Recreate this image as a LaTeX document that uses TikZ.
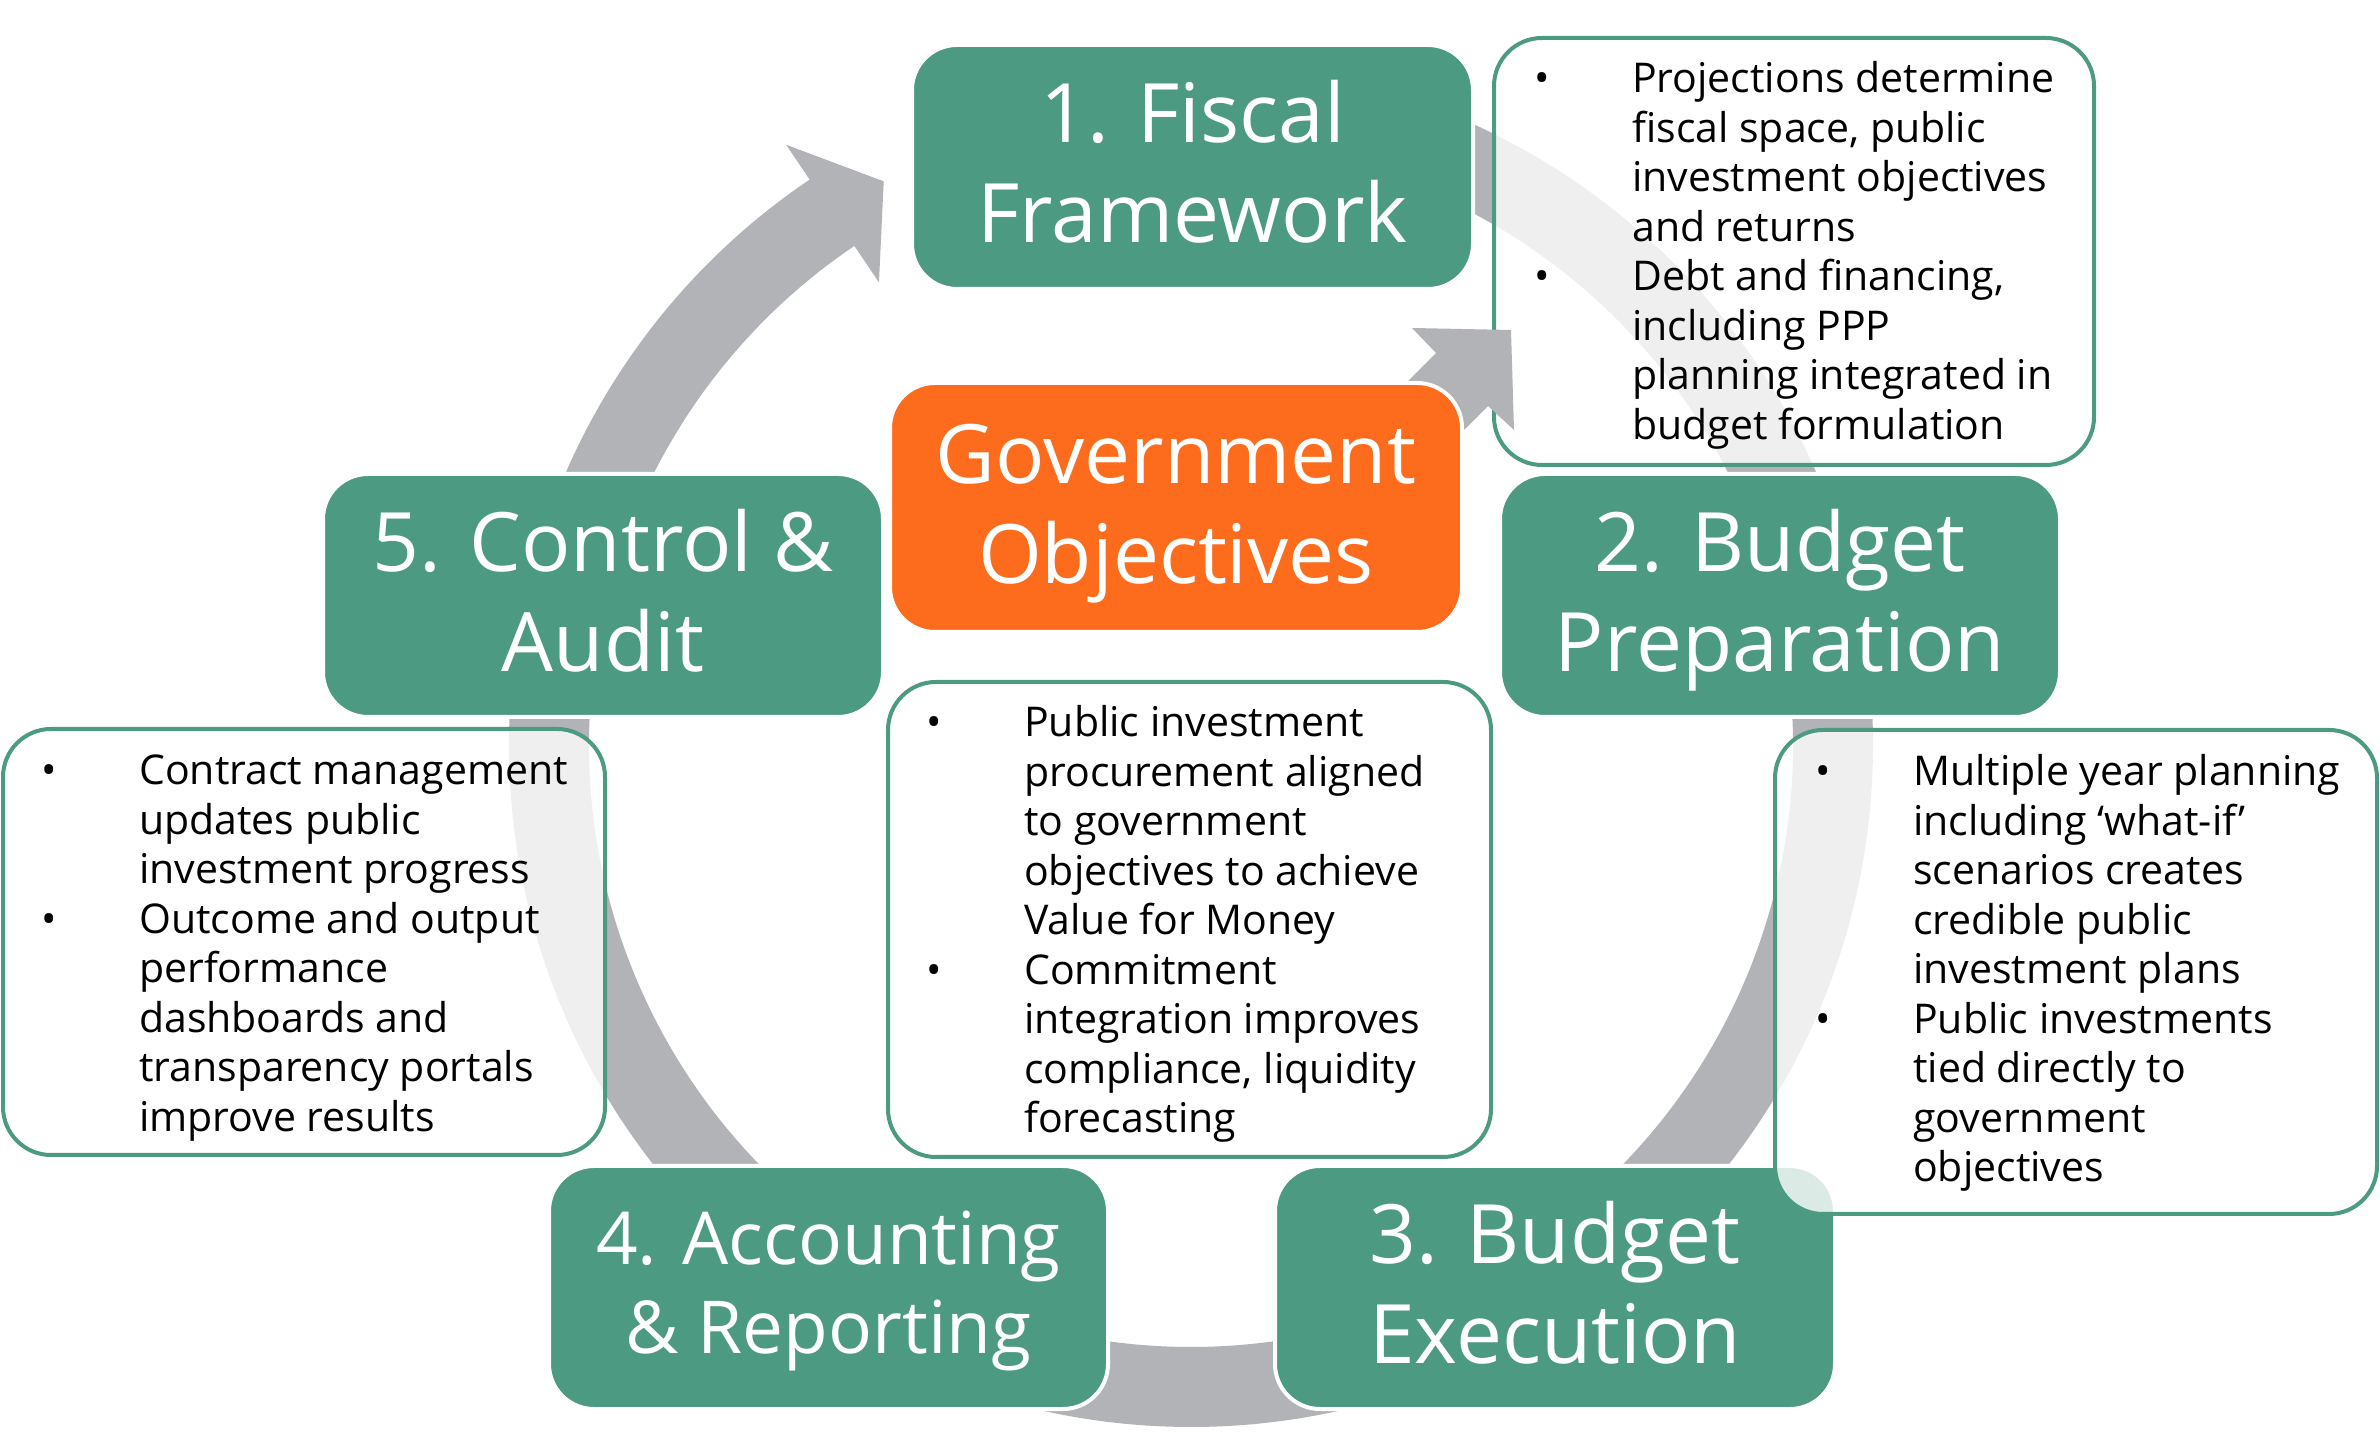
\documentclass[tikz,border=0pt]{standalone}
\usepackage{fontspec}
\setmainfont{Open Sans}
\usetikzlibrary{calc}
\definecolor{pgreen}{RGB}{76,154,129}
\definecolor{agray}{RGB}{178,179,182}
\definecolor{porange}{RGB}{252,108,28}
\tikzset{
  titlebox/.style={rectangle, rounded corners=45pt, fill=pgreen, draw=white, line width=4pt, inner sep=0pt},
  govbox/.style={titlebox, fill=porange},
  titletext/.style={text=white, font=\fontsize{82}{100}\selectfont, align=center, anchor=base, inner sep=0pt},
  smalltitle/.style={titletext, font=\fontsize{73}{89}\selectfont},
  notebox/.style={rectangle, rounded corners=48pt, draw=pgreen, line width=4pt, fill=white, fill opacity=0.8, inner sep=0pt},
  notetext/.style={text=black, font=\fontsize{41}{49.5}\selectfont, align=left, anchor=base west, inner sep=0pt},
  band/.style={draw=agray, line width=80pt},
  arrowshape/.style={fill=agray},
}
\newcommand{\itembul}{\llap{\makebox[98pt][l]{•}}}
\begin{document}
\begin{tikzpicture}[x=1pt,y=1pt]
\fill[white] (0,0) rectangle (2380,1454);
\useasboundingbox (0,0) rectangle (2380,1454);
\coordinate (C) at (1191,709);
% cycle bands
\draw[band] ($(C)+(95:642)$) arc[start angle=95,end angle=15,radius=642];
\draw[band] ($(C)+(8:642)$) arc[start angle=8,end angle=-48,radius=642];
\draw[band] ($(C)+(-60:642)$) arc[start angle=-60,end angle=-120,radius=642];
\draw[band] ($(C)+(-128:642)$) arc[start angle=-128,end angle=-190,radius=642];
\fill[arrowshape] ($(C)+(160:682)$) arc[start angle=160,end angle=124,radius=682]
  -- ($(C)+(124:724)$) -- ($(C)+(118.6:642)$) -- ($(C)+(124:558)$)
  -- ($(C)+(124:602)$) arc[start angle=124,end angle=160,radius=602] -- cycle;
% stage boxes (text nodes anchored at the baseline of their last line)
\node[titlebox, minimum width=561pt, minimum height=244pt] (b1) at (1192.5,1287) {};
\node[titletext] (t1) at (1192.5,1211) {1. Fiscal\\Framework};
\node[titlebox, minimum width=560pt, minimum height=243pt] (b2) at (1780,858.5) {};
\node[titletext] (t2) at (1780,782.5) {2. Budget\\Preparation};
\node[titlebox, minimum width=560pt, minimum height=243pt] (b3) at (1555,166.5) {};
\node[titletext] (t3) at (1555,90.5) {3. Budget\\Execution};
\node[titlebox, minimum width=559pt, minimum height=243pt] (b4) at (828.5,166.5) {};
\node[smalltitle] (t4) at (828.5,100) {4. Accounting\\\& Reporting};
\node[titlebox, minimum width=560pt, minimum height=243pt] (b5) at (603,858.5) {};
\node[titletext] (t5) at (603,782.5) {5. Control \&\\Audit};
% note boxes
\node[notebox, minimum width=600pt, minimum height=427pt] (n1) at (1794,1202.5) {};
\node[notetext] (m1) at (1632,1014.5) {\itembul Projections determine\\fiscal space, public\\investment objectives\\and returns\\\itembul Debt and financing,\\including PPP\\planning integrated in\\budget formulation};
\node[notebox, minimum width=603pt, minimum height=475pt] (n0) at (1189.5,534.5) {};
\node[notetext] (m0) at (1024,321) {\itembul Public investment\\procurement aligned\\to government\\objectives to achieve\\Value for Money\\\itembul Commitment\\integration improves\\compliance, liquidity\\forecasting};
\node[notebox, minimum width=602pt, minimum height=426pt] (n5) at (304,512) {};
\node[notetext] (m5) at (139,322.5) {\itembul Contract management\\updates public\\investment progress\\\itembul Outcome and output\\performance\\dashboards and\\transparency portals\\improve results};
\node[notebox, minimum width=602pt, minimum height=484pt] (n2) at (2076,482) {};
\node[notetext] (m2) at (1913,272) {\itembul Multiple year planning\\including ‘what-if’\\scenarios creates\\credible public\\investment plans\\\itembul Public investments\\tied directly to\\government\\objectives};
% straight arrow from the centre
\fill[arrowshape] (1436,1101) -- (1412,1126) -- (1511,1124) -- (1514,1024) -- (1488,1048) -- (1338,898) -- (1286,951) -- cycle;
% centre box
\node[govbox, minimum width=572pt, minimum height=249pt] (g) at (1176,946.5) {};
\node[titletext] (tg) at (1176,870.5) {Government\\Objectives};
\end{tikzpicture}
\end{document}
